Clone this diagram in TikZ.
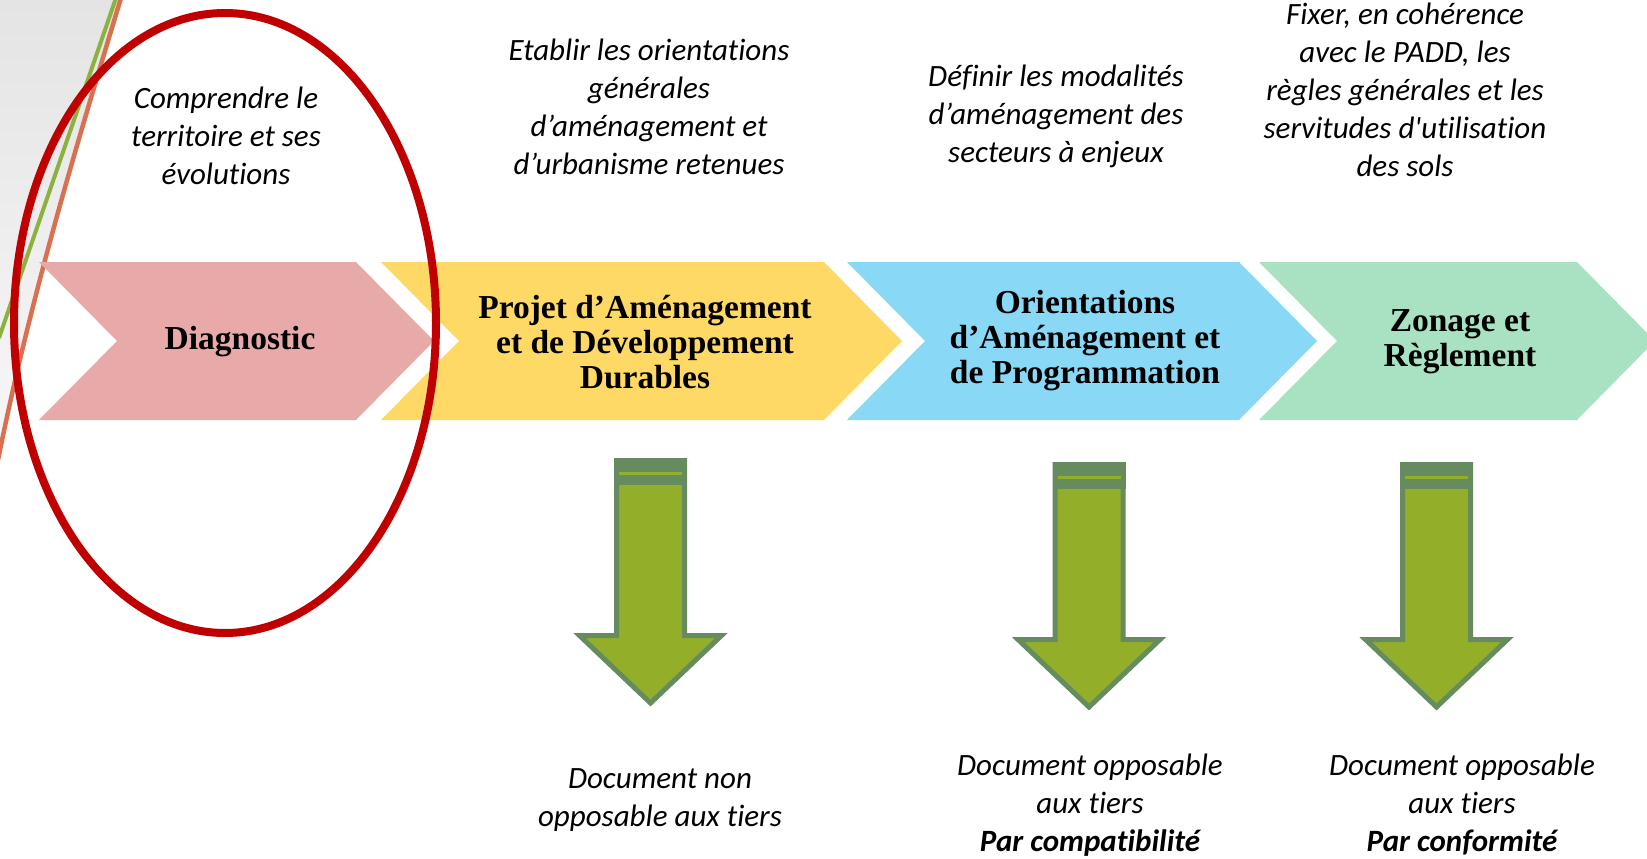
\documentclass[tikz,border=0pt]{standalone}
\usepackage{fontspec}
\setmainfont{Carlito}[Ligatures=NoCommon]
\newfontfamily\chevfont{Liberation Serif}
\definecolor{cpink}{HTML}{E8A9A9}
\definecolor{cyellow}{HTML}{FFD966}
\definecolor{cblue}{HTML}{88D8F6}
\definecolor{cgreen}{HTML}{A8E2C2}
\definecolor{cred}{HTML}{C00000}
\definecolor{afill}{HTML}{93AF2A}
\definecolor{adark}{HTML}{668B5E}
\definecolor{lgreen}{HTML}{8DB13F}
\definecolor{lorange}{HTML}{D9704F}
\definecolor{bggray}{HTML}{E4E4E4}
\tikzset{
  desc/.style={font=\fontsize{31}{38}\selectfont\itshape, align=center, inner sep=0pt},
  chevlabel/.style={font=\chevfont\bfseries\fontsize{33.5}{35}\selectfont, align=center, inner sep=0pt},
  downarr/.pic={
    \filldraw[fill=afill, draw=adark, line width=5pt, miter limit=10]
      (-34,2.5) -- (34,2.5) -- (34,177.5) -- (71,177.5) -- (0,245) -- (-71,177.5) -- (-34,177.5) -- cycle;
    \fill[adark] (-36.5,0) rectangle (36.5,27);
    \fill[afill] (-31.5,14) rectangle (31.5,16.5);
  }
}
\newcommand\chevshape[3]{%
  \fill[#3] (#1,262) -- (#2,262) -- (#2+78,341) -- (#2,420) -- (#1,420) -- (#1+78,341) -- cycle;}
\begin{document}
\begin{tikzpicture}[x=1pt,y=-1pt]
\useasboundingbox (0,0) rectangle (1647,859);
\clip (0,0) rectangle (1647,859);
\fill[white] (0,0) rectangle (1647,859);
% background decoration
\shade[top color=bggray, bottom color=bggray!30] (0,0) -- (121,0) .. controls (75,150) and (30,300) .. (0,450) -- cycle;
\draw[lgreen, line width=4pt] (116,-2) -- (-1,338);
\draw[lorange, line width=4.5pt] (121,-2) .. controls (75,150) and (30,300) .. (-2,460);
% chevrons
\chevshape{39}{356}{cpink}
\chevshape{381}{824}{cyellow}
\chevshape{847}{1239}{cblue}
\chevshape{1259}{1577}{cgreen}
% red ellipse
\draw[cred, line width=8pt] (225,323) ellipse [x radius=211, y radius=310];
% chevron labels
\node[chevlabel] (diag) at (240,342) {Diagnostic};
\node[chevlabel] (padd) at (645,342) {Projet d’Aménagement\\et de Développement\\Durables};
\node[chevlabel] (oap) at (1085,341) {Orientations\\d’Aménagement et\\de Programmation};
\node[chevlabel] (zon) at (1460,342) {Zonage et\\Règlement};
% descriptions
\node[desc] (d1) at (226,136) {Comprendre le\\territoire et ses\\évolutions};
\node[desc] (d2) at (649,106.5) {Etablir les orientations\\générales\\d’aménagement et\\d’urbanisme retenues};
\node[desc] (d3) at (1056,116) {Définir les modalités\\d’aménagement des\\secteurs à enjeux};
\node[desc] (d4) at (1405,89.5) {Fixer, en cohérence\\avec le PADD, les\\règles générales et les\\servitudes d\textquotesingle utilisation\\des sols};
% down arrows
\pic (arA) at (650.5,458) {downarr};
\pic (arB) at (1089,462) {downarr};
\pic (arC) at (1436.5,462) {downarr};
% bottom texts
\node[desc] (b1) at (660,800) {Document non\\opposable aux tiers};
\node[desc] (b2) at (1090,805) {Document opposable\\aux tiers\\\textbf{Par compatibilité}};
\node[desc] (b3) at (1462,805) {Document opposable\\aux tiers\\\textbf{Par conformité}};
\end{tikzpicture}
\end{document}
